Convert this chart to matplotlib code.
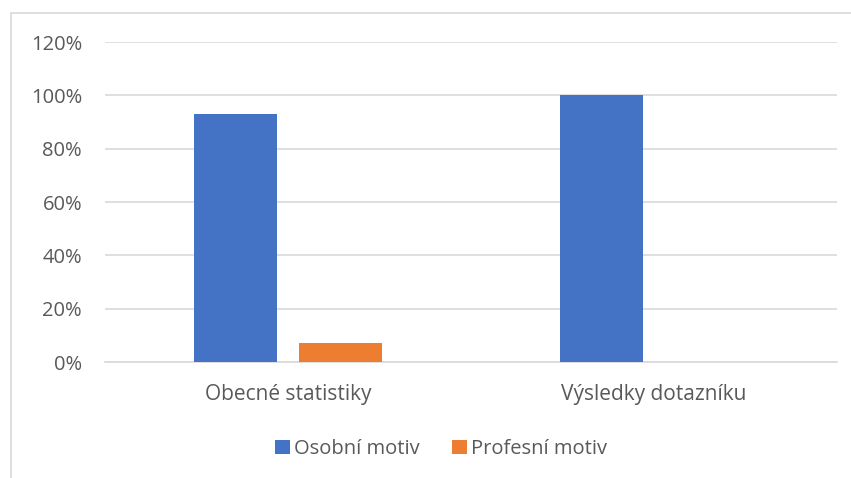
import matplotlib.pyplot as plt
from matplotlib.patches import Rectangle
from matplotlib.ticker import FuncFormatter

categories = ['Obecné statistiky', 'Výsledky dotazníku']
osobni = [0.93, 1.00]
profesni = [0.07, 0.0]
series_names = ['Osobní motiv', 'Profesní motiv']
colors = ['#4472C4', '#ED7D31']
yticks = [0, 0.2, 0.4, 0.6, 0.8, 1.0, 1.2]

txt = '#595959'
grid = '#D9D9D9'
plt.rcParams['font.family'] = ['Open Sans', 'DejaVu Sans']

fig = plt.figure(figsize=(8.51, 4.78), dpi=100)
# chart frame (cropped at right and bottom in the reference)
fig.patches.append(Rectangle((11 / 851, -0.05), 1.0, (478 - 13) / 478 + 0.05,
                             transform=fig.transFigure, fill=False,
                             edgecolor=grid, linewidth=1.2))

ax = fig.add_axes([105 / 851, 1 - 362 / 478, (837 - 105) / 851, (362 - 42) / 478])
x = range(len(categories))
w = 0.227
off = 0.1434
ax.bar([i - off for i in x], osobni, width=w, color=colors[0], label=series_names[0], zorder=3)
ax.bar([i + off for i in x], profesni, width=w, color=colors[1], label=series_names[1], zorder=3)

ax.set_xlim(-0.5, 1.5)
ax.set_ylim(0, 1.2)
ax.set_yticks(yticks)
ax.yaxis.set_major_formatter(FuncFormatter(lambda v, p: f'{v * 100:.0f}%'))
ax.set_xticks(list(x))
ax.set_xticklabels(categories)
ax.tick_params(axis='y', length=0, labelsize=14.5, colors=txt, pad=16.5)
ax.tick_params(axis='x', length=0, labelsize=15, colors=txt, pad=16)
ax.grid(axis='y', color=grid, linewidth=1.2, zorder=0)
for s in ['top', 'right', 'left']:
    ax.spines[s].set_visible(False)
ax.spines['bottom'].set_color(grid)
ax.spines['bottom'].set_linewidth(1.2)

fig.legend(loc='center', bbox_to_anchor=(441 / 851, 1 - 449 / 478), ncol=2, frameon=False,
           fontsize=14.5, labelcolor=txt, handlelength=0.75, handleheight=0.75,
           handletextpad=0.2, columnspacing=1.6)

fig.savefig('out.png', dpi=100)
